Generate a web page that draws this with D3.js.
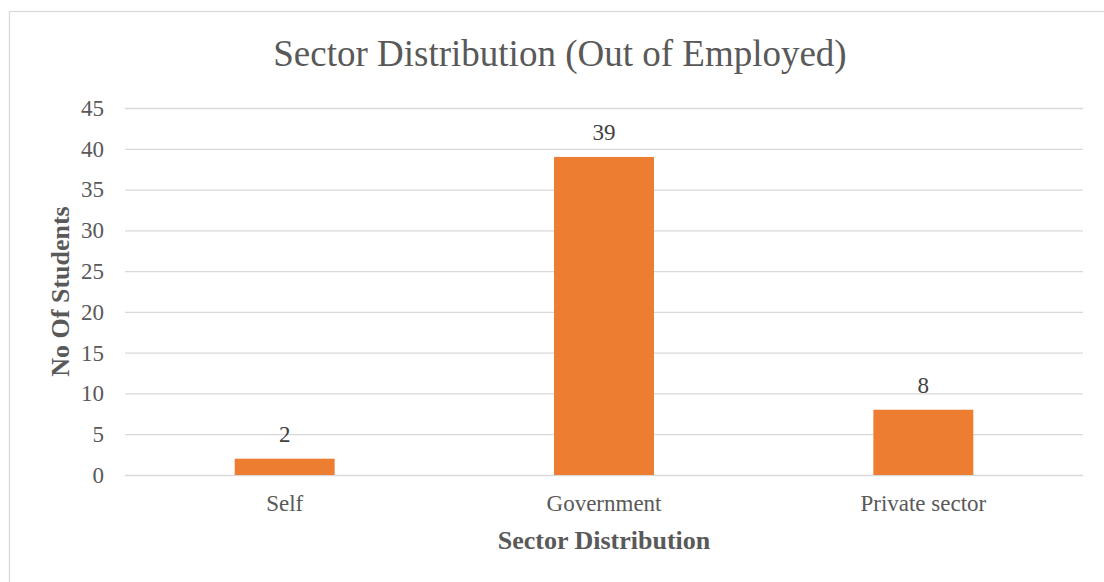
<!DOCTYPE html>
<html>
<head>
<meta charset="utf-8">
<script src="https://cdn.jsdelivr.net/npm/d3@7"></script>
<style>
  html, body { margin: 0; padding: 0; background: #ffffff; }
  svg { display: block; }
</style>
</head>
<body>
<svg id="chart" width="1104" height="582"></svg>
<script>
const categories = ["Self", "Government", "Private sector"];
const values = [2, 39, 8];
const yTicks = [0, 5, 10, 15, 20, 25, 30, 35, 40, 45];
const titleText = "Sector Distribution (Out of Employed)";
const xTitleText = "Sector Distribution";
const yTitleText = "No Of Students";

const svg = d3.select("#chart");
const W = 1104, H = 582;
const plot = { left: 125, right: 1083, top: 108, bottom: 475 };
const serif = "'Liberation Serif', 'Times New Roman', serif";

// Chart frame
svg.append("rect")
  .attr("x", 9.5).attr("y", 11.5)
  .attr("width", 1200).attr("height", 700)
  .attr("fill", "#ffffff")
  .attr("stroke", "#d9d9d9").attr("stroke-width", 1.3);

const x = d3.scaleBand()
  .domain(categories)
  .range([plot.left, plot.right])
  .paddingInner(0.687)
  .paddingOuter(0.687 / 2);

const y = d3.scaleLinear()
  .domain([0, 45])
  .range([plot.bottom, plot.top]);

// Gridlines
const yAxis = d3.axisLeft(y)
  .tickValues(yTicks)
  .tickSize(-(plot.right - plot.left))
  .tickPadding(21)
  .tickFormat(d3.format("d"));

const gy = svg.append("g")
  .attr("transform", `translate(${plot.left},0)`)
  .call(yAxis);
gy.select(".domain").remove();
gy.selectAll(".tick line")
  .attr("stroke", "#d9d9d9").attr("stroke-width", 1.3);
gy.selectAll(".tick text")
  .attr("fill", "#595959")
  .style("font-family", serif)
  .style("font-size", "23px");

// Bars
svg.append("g").selectAll("rect")
  .data(values)
  .join("rect")
  .attr("x", (d, i) => x(categories[i]))
  .attr("y", d => y(d))
  .attr("width", x.bandwidth())
  .attr("height", d => y(0) - y(d))
  .attr("fill", "#ED7D31");

// Data labels
svg.append("g").selectAll("text")
  .data(values)
  .join("text")
  .attr("x", (d, i) => x(categories[i]) + x.bandwidth() / 2)
  .attr("y", d => y(d) - 17)
  .attr("text-anchor", "middle")
  .attr("fill", "#404040")
  .style("font-family", serif)
  .style("font-size", "23px")
  .text(d => d);

// X axis labels
const xAxis = d3.axisBottom(x).tickSize(0).tickPadding(20);
const gx = svg.append("g")
  .attr("transform", `translate(0,${plot.bottom})`)
  .call(xAxis);
gx.select(".domain").remove();
gx.selectAll(".tick text")
  .attr("fill", "#595959")
  .style("font-family", serif)
  .style("font-size", "23px");

// Title
svg.append("text")
  .attr("x", 560).attr("y", 66)
  .attr("text-anchor", "middle")
  .attr("fill", "#595959")
  .style("font-family", serif)
  .style("font-size", "37px")
  .text(titleText);

// X axis title
svg.append("text")
  .attr("x", (plot.left + plot.right) / 2).attr("y", 549)
  .attr("text-anchor", "middle")
  .attr("fill", "#595959")
  .style("font-family", serif)
  .style("font-weight", "bold")
  .style("font-size", "26px")
  .text(xTitleText);

// Y axis title
svg.append("text")
  .attr("transform", `translate(69,${(plot.top + plot.bottom) / 2}) rotate(-90)`)
  .attr("text-anchor", "middle")
  .attr("fill", "#595959")
  .style("font-family", serif)
  .style("font-weight", "bold")
  .style("font-size", "26px")
  .text(yTitleText);
</script>
</body>
</html>
